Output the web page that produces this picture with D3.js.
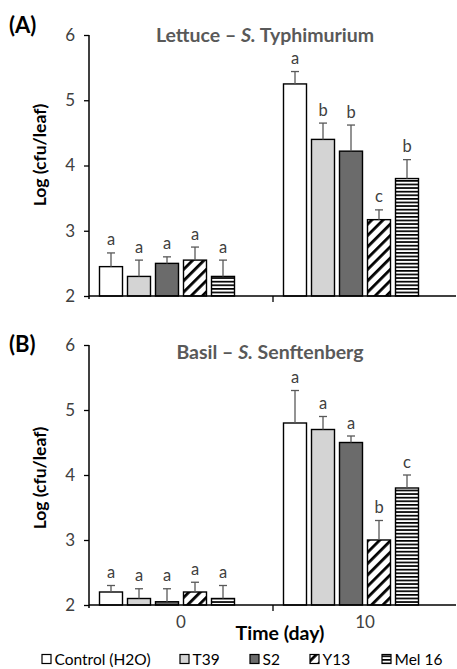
<!DOCTYPE html>
<html>
<head>
<meta charset="utf-8">
<script src="https://cdn.jsdelivr.net/npm/d3@7"></script>
<style>
  body { margin: 0; background: #fff; }
  svg { display: block; }
</style>
</head>
<body>
<div id="chart"></div>
<script>
// ===== Data =====
const series = ["Control (H2O)", "T39", "S2", "Y13", "Mel 16"];
const days = ["0", "10"];
const yTicks = [2, 3, 4, 5, 6];

const lettuceMeans = [[2.45, 2.3, 2.5, 2.55, 2.3], [5.25, 4.4, 4.22, 3.17, 3.8]];
const lettuceErrors = [[0.21, 0.25, 0.1, 0.2, 0.25], [0.19, 0.25, 0.4, 0.15, 0.29]];
const lettuceLetters = [["a", "a", "a", "a", "a"], ["a", "b", "b", "c", "b"]];

const basilMeans = [[2.2, 2.1, 2.05, 2.2, 2.1], [4.8, 4.7, 4.5, 3.0, 3.8]];
const basilErrors = [[0.1, 0.15, 0.2, 0.15, 0.2], [0.5, 0.2, 0.1, 0.3, 0.2]];
const basilLetters = [["a", "a", "a", "a", "a"], ["a", "a", "a", "b", "c"]];

const width = 457, height = 669;
const font = "Lato, 'Open Sans', sans-serif";

const svg = d3.select("#chart").append("svg")
    .attr("width", width)
    .attr("height", height);

// ===== Patterns =====
const defs = svg.append("defs");
const diag = defs.append("pattern")
    .attr("id", "diag")
    .attr("patternUnits", "userSpaceOnUse")
    .attr("width", 8).attr("height", 8)
    .attr("patternTransform", "rotate(45)");
diag.append("rect").attr("width", 8).attr("height", 8).attr("fill", "#fff");
diag.append("rect").attr("width", 2.8).attr("height", 8).attr("fill", "#000");

const horiz = defs.append("pattern")
    .attr("id", "horiz")
    .attr("patternUnits", "userSpaceOnUse")
    .attr("width", 6).attr("height", 3.6);
horiz.append("rect").attr("width", 6).attr("height", 3.6).attr("fill", "#fff");
horiz.append("rect").attr("width", 6).attr("height", 1.7).attr("fill", "#000");

const fills = ["#ffffff", "#d4d4d4", "#6b6b6b", "url(#diag)", "url(#horiz)"];

// ===== Scales (shared x) =====
const x0 = d3.scaleBand().domain(days).range([89, 457]);
// 6 slots per group: Excel left an empty 6th series slot
const x1 = d3.scaleBand().domain(d3.range(6))
    .range([0, x0.bandwidth()])
    .paddingInner(5 / 28)
    .paddingOuter(0.375);

function drawPanel(opts) {
    const y = d3.scaleLinear().domain([2, 6]).range([opts.y2, opts.y6]);
    const g = svg.append("g");

    // panel tag
    g.append("text")
        .attr("x", 9).attr("y", opts.tagY)
        .style("font-family", font).style("font-weight", 700)
        .style("font-size", "22px").attr("fill", "#000")
        .text(opts.tag);

    // title
    const title = g.append("text")
        .attr("x", opts.titleX).attr("y", opts.titleY)
        .attr("text-anchor", "middle")
        .style("font-family", font).style("font-weight", 700)
        .style("font-size", "19.5px").attr("fill", "#595959");
    title.append("tspan").text(opts.title[0]);
    title.append("tspan").style("font-style", "italic").text(opts.title[1]);
    title.append("tspan").text(opts.title[2]);

    // y axis label
    g.append("text")
        .attr("transform", `translate(46,${opts.labelY}) rotate(-90)`)
        .attr("text-anchor", "middle")
        .style("font-family", font).style("font-weight", 700)
        .style("font-size", "17.5px").attr("fill", "#000")
        .text("Log (cfu/leaf)");

    // y axis
    const yAxis = g.append("g")
        .attr("transform", "translate(89,0)")
        .call(d3.axisLeft(y).tickValues(yTicks).tickSize(5).tickPadding(9).tickFormat(d3.format("d")));
    yAxis.select(".domain").attr("stroke", "#000").attr("stroke-width", 1.5)
        .attr("d", `M0,${opts.y6}V${opts.y2 + 3}`);
    yAxis.selectAll(".tick line").attr("stroke", "#000").attr("stroke-width", 1.3);
    yAxis.selectAll(".tick text")
        .style("font-family", font).style("font-size", "17px").attr("fill", "#404040");

    // bars
    const groups = g.selectAll(".day").data(days).enter().append("g")
        .attr("class", "day")
        .attr("transform", d => `translate(${x0(d)},0)`);

    groups.each(function (day, di) {
        const rows = series.map((s, si) => ({
            si,
            mean: opts.means[di][si],
            err: opts.errors[di][si],
            letter: opts.letters[di][si]
        }));
        const sel = d3.select(this);

        sel.selectAll("rect.bar").data(rows).enter().append("rect")
            .attr("class", "bar")
            .attr("x", d => x1(d.si))
            .attr("width", x1.bandwidth())
            .attr("y", d => y(d.mean))
            .attr("height", d => y(2) - y(d.mean))
            .attr("fill", d => fills[d.si])
            .attr("stroke", "#000")
            .attr("stroke-width", 1.4);

        const eb = sel.selectAll("g.err").data(rows).enter().append("g")
            .attr("class", "err")
            .attr("stroke", "#595959")
            .attr("stroke-width", 1.3);
        eb.append("line")
            .attr("x1", d => x1(d.si) + x1.bandwidth() / 2)
            .attr("x2", d => x1(d.si) + x1.bandwidth() / 2)
            .attr("y1", d => y(d.mean))
            .attr("y2", d => y(d.mean + d.err));
        eb.append("line")
            .attr("x1", d => x1(d.si) + x1.bandwidth() / 2 - 4)
            .attr("x2", d => x1(d.si) + x1.bandwidth() / 2 + 4)
            .attr("y1", d => y(d.mean + d.err))
            .attr("y2", d => y(d.mean + d.err));

        sel.selectAll("text.letter").data(rows).enter().append("text")
            .attr("class", "letter")
            .attr("x", d => x1(d.si) + x1.bandwidth() / 2)
            .attr("y", d => y(d.mean + d.err) - 7.5)
            .attr("text-anchor", "middle")
            .style("font-family", font).style("font-size", "16.5px")
            .attr("fill", "#404040")
            .text(d => d.letter);
    });

    // x axis
    const xAxis = g.append("g")
        .attr("transform", `translate(0,${opts.y2})`)
        .call(d3.axisBottom(x0).tickSize(0).tickPadding(11));
    xAxis.select(".domain").attr("stroke", "#000").attr("stroke-width", 1.5)
        .attr("d", `M89,0H456`);
    xAxis.append("line")
        .attr("x1", x0("10")).attr("x2", x0("10"))
        .attr("y1", 0).attr("y2", 6)
        .attr("stroke", "#000").attr("stroke-width", 1.3);
    xAxis.selectAll(".tick text")
        .style("font-family", font).style("font-size", "17px")
        .attr("fill", "#404040")
        .attr("opacity", opts.showX ? 1 : 0);
}

drawPanel({
    tag: "(A)", tagY: 33,
    title: ["Lettuce – ", "S.", " Typhimurium"], titleX: 265, titleY: 42,
    labelY: 155, y6: 35, y2: 296,
    means: lettuceMeans, errors: lettuceErrors, letters: lettuceLetters,
    showX: false
});

drawPanel({
    tag: "(B)", tagY: 352,
    title: ["Basil – ", "S.", " Senftenberg"], titleX: 270, titleY: 359,
    labelY: 478, y6: 345, y2: 605,
    means: basilMeans, errors: basilErrors, letters: basilLetters,
    showX: true
});

// x axis title
svg.append("text")
    .attr("x", 280).attr("y", 640)
    .attr("text-anchor", "middle")
    .style("font-family", font).style("font-weight", 700)
    .style("font-size", "19.5px").attr("fill", "#000")
    .text("Time (day)");

// ===== Legend =====
const legendX = [42, 180, 250, 310, 382];
const legend = svg.append("g").attr("transform", "translate(0,659)");
const item = legend.selectAll("g").data(series).enter().append("g")
    .attr("transform", (d, i) => `translate(${legendX[i]},0)`);
item.append("rect")
    .attr("x", 0).attr("y", -4.5)
    .attr("width", 9).attr("height", 9)
    .attr("fill", (d, i) => fills[i])
    .attr("stroke", "#000").attr("stroke-width", 1.2);
item.append("text")
    .attr("x", 12.5).attr("y", 5.5)
    .style("font-family", font).style("font-size", "15.5px")
    .attr("fill", "#000")
    .text(d => d);
</script>
</body>
</html>
